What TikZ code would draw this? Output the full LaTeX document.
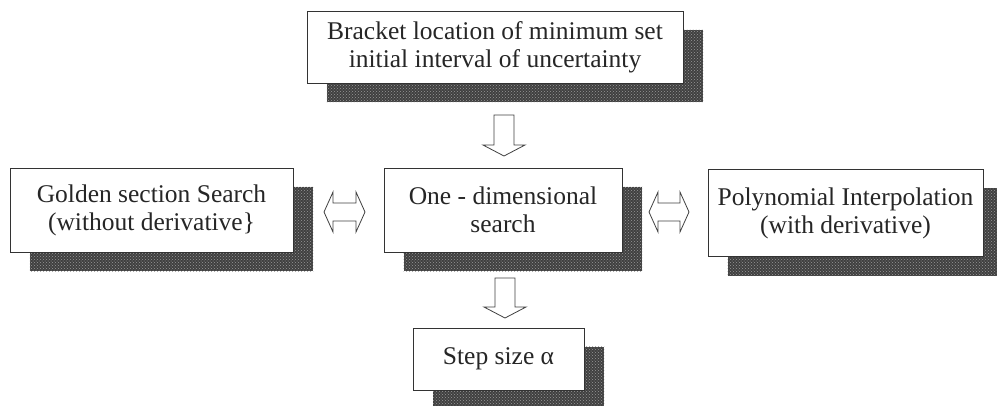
\documentclass[tikz,border=0pt]{standalone}
\usepackage{fontspec}
\setmainfont{Liberation Serif}
\usetikzlibrary{backgrounds,patterns}
\begin{document}
\begin{tikzpicture}[x=1pt,y=-1pt,
  box/.style={draw=black!80, line width=0.9pt, fill=white, inner sep=0pt, align=center,
    font=\fontsize{25.5}{28}\selectfont, text=black!85},
  shade/.style={preaction={fill=black!75}, pattern=crosshatch dots, pattern color=black!40},
  hollow/.style={draw=black!75, line width=0.8pt, fill=white, line join=miter}
]
\useasboundingbox (0,0) rectangle (997,405);

\node[box, minimum width=376pt, minimum height=72pt] (top) at (495,47)
  {Bracket location of minimum set\\initial interval of uncertainty};
\node[box, minimum width=283pt, minimum height=84pt] (gold) at (151.5,210)
  {Golden section Search\\(without derivative\}};
\node[box, minimum width=238pt, minimum height=84pt] (one) at (503,210)
  {One - dimensional\\search};
\node[box, minimum width=275pt, minimum height=87pt] (poly) at (845.5,213)
  {Polynomial Interpolation\\(with derivative)};
\node[box, minimum width=171pt, minimum height=62pt] (step) at (498.5,359)
  {Step size α};

\begin{scope}[on background layer]
  \foreach \n in {top,gold,one,poly,step}
    \path[shade] ([xshift=20pt,yshift=-19pt]\n.south west) rectangle ([xshift=20pt,yshift=-19pt]\n.north east);
\end{scope}

% down arrow top -> one
\coordinate (a1) at (504,115);
\draw[hollow] (a1) ++(-10,0) -- ++(20,0) -- ++(0,30) -- ++(11,0) -- ++(-21,11) -- ++(-21,-11) -- ++(11,0) -- cycle;
% down arrow one -> step
\coordinate (a2) at (505,278);
\draw[hollow] (a2) ++(-10,0) -- ++(20,0) -- ++(0,29) -- ++(11,0) -- ++(-21,11) -- ++(-21,-11) -- ++(11,0) -- cycle;
% double arrows
\coordinate (d1) at (324,212);
\draw[hollow] (d1) -- ++(9,-20) -- ++(0,11) -- ++(23,0) -- ++(0,-11) -- ++(9,20) -- ++(-9,20) -- ++(0,-11) -- ++(-23,0) -- ++(0,11) -- cycle;
\coordinate (d2) at (649,212);
\draw[hollow] (d2) -- ++(9,-20) -- ++(0,11) -- ++(22,0) -- ++(0,-11) -- ++(9,20) -- ++(-9,20) -- ++(0,-11) -- ++(-22,0) -- ++(0,11) -- cycle;
\end{tikzpicture}
\end{document}
